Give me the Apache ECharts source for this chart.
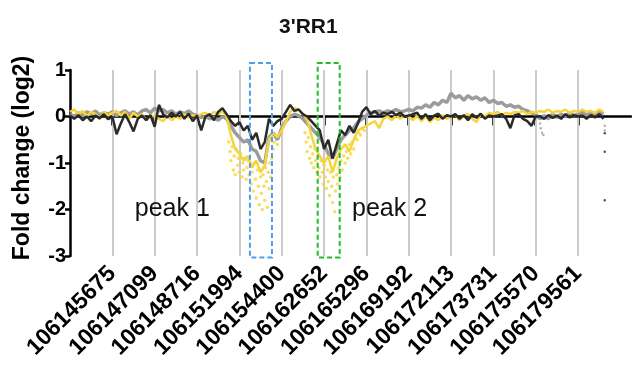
<!DOCTYPE html>
<html>
<head>
<meta charset="utf-8">
<script src="https://cdn.jsdelivr.net/npm/echarts@6/dist/echarts.min.js"></script>
<style>
  html, body { margin: 0; padding: 0; background: #fff; }
  #chart { width: 632px; height: 371px; }
</style>
</head>
<body>
<div id="chart"></div>
<script>
// genomic positions shown under the x axis (one per grid line)
const positions = ['106145675', '106147099', '106148716', '106151994', '106154400', '106162652',
  '106165296', '106169192', '106172113', '106173731', '106175570', '106179561'];
const tickPos = [1, 2, 3, 4, 5, 6, 7, 8, 9, 10, 11, 12];
const step = 0.1; // x spacing of the traces, in grid-line units

// fold change (log2)
const darkVals = [
  0.02, -0.05, 0.03, -0.08, 0.0, -0.1, 0.02, -0.04, 0.05, -0.06,
  0.0, -0.38, -0.15, 0.05, -0.12, -0.32, -0.05, 0.02, -0.08, 0.03,
  -0.22, 0.25, 0.05, -0.02, 0.08, 0.0, 0.1, -0.05, 0.06, -0.1,
  0.02, -0.3, 0.0, 0.05, -0.08, 0.1, 0.18, 0.05, -0.1, -0.2,
  -0.12, -0.3, -0.2, -0.5, -0.35, -0.7, -0.55, -0.05, -0.2, -0.1,
  -0.05, 0.1, 0.25, 0.12, 0.15, 0.05, 0.0, -0.1, -0.2, -0.3,
  -0.7, -0.5, -0.9, -0.6, -0.3, -0.4, -0.2, -0.35, -0.15, 0.1,
  0.2, 0.05, 0.12, 0.02, 0.08, 0.05, 0.1, 0.03, 0.08, 0.0,
  0.02, 0.05, 0.08, -0.05, 0.05, -0.08, 0.02, 0.06, -0.05, 0.03,
  0.0, 0.05, -0.05, 0.03, -0.08, 0.05, -0.03, 0.06, -0.05, 0.02,
  0.0, 0.02, 0.05, -0.05, -0.25, 0.03, 0.05, -0.05, -0.1, -0.2,
  0.0, 0.0, -0.05, 0.03, -0.03, 0.02, -0.05, 0.05, -0.02, 0.03,
  0.0, 0.02, -0.05, 0.03, -0.02, 0.05, -0.05
];
const grayVals = [
  0.05, 0.0, 0.08, 0.02, 0.1, 0.05, 0.12, 0.03, 0.08, 0.05,
  0.1, 0.02, 0.08, 0.12, 0.05, 0.1, 0.03, 0.12, 0.15, 0.08,
  0.18, 0.12, 0.15, 0.08, 0.12, 0.05, 0.1, 0.06, 0.12, 0.05,
  0.02, -0.02, 0.0, -0.05, -0.02, -0.08, 0.0, -0.05, -0.2, -0.35,
  -0.45, -0.55, -0.5, -0.7, -0.75, -0.95, -1.0, -0.45, -0.35, -0.5,
  -0.25, -0.1, 0.0, 0.05, 0.02, -0.05, -0.15, -0.25, -0.35, -0.45,
  -0.6, -0.8, -0.9, -0.7, -0.5, -0.4, -0.3, -0.25, -0.12, -0.05,
  0.02, 0.08, 0.1, 0.12, 0.08, 0.12, 0.1, 0.15, 0.1, 0.12,
  0.15, 0.12, 0.2, 0.18, 0.25, 0.2, 0.3, 0.25, 0.35, 0.3,
  0.5, 0.4, 0.45, 0.35, 0.45, 0.38, 0.42, 0.35, 0.4, 0.3,
  0.35, 0.28, 0.3, 0.22, 0.25, 0.2, 0.22, 0.15, 0.12, 0.08,
  0.05, -0.05, 0.02, -0.05, 0.05, -0.02, 0.05, 0.0, 0.08, 0.02,
  0.05, 0.1, 0.03, 0.08, 0.05, 0.1, 0.05
];
const yellowVals = [
  0.1, 0.15, 0.05, 0.12, 0.0, 0.1, 0.05, -0.05, 0.1, 0.02,
  0.08, 0.12, 0.02, 0.1, -0.05, 0.08, 0.0, 0.05, -0.08, 0.02,
  0.0, -0.05, -0.1, 0.02, -0.08, 0.0, -0.05, 0.05, -0.02, 0.03,
  0.0, 0.05, 0.08, 0.02, 0.1, 0.05, 0.12, 0.0, -0.4, -0.7,
  -0.8, -0.95, -0.85, -1.1, -0.95, -1.2, -1.05, -0.5, -0.35, -0.45,
  -0.3, -0.1, 0.1, 0.18, 0.15, 0.05, -0.05, -0.4, -0.7, -0.85,
  -1.0, -0.85, -1.2, -0.9, -0.7, -0.6, -0.75, -0.5, -0.3, -0.25,
  -0.2, -0.15, -0.1, -0.25, -0.05, 0.0, -0.08, 0.02, -0.05, 0.02,
  0.0, -0.08, 0.02, -0.1, 0.0, -0.12, -0.02, -0.08, 0.03, -0.05,
  0.0, 0.05, -0.08, 0.02, 0.05, -0.05, -0.12, 0.05, 0.0, 0.08,
  0.05, 0.1, 0.02, 0.08, 0.05, 0.1, 0.08, 0.12, 0.05, 0.1,
  0.08, 0.12, 0.1, 0.15, 0.08, 0.12, 0.1, 0.15, 0.08, 0.12,
  0.1, 0.15, 0.1, 0.12, 0.08, 0.15, 0.1
];
// scattered yellow points in the two peaks: [x, fold change]
const yellowPeak1 = [
  [3.75, -0.55], [3.78, -0.75], [3.8, -0.95], [3.83, -0.65], [3.86, -1.15], [3.88, -0.85], [3.9, -1.25],
  [3.93, -0.7], [3.96, -1.05], [3.98, -0.9], [4.0, -1.2], [4.03, -0.8], [4.06, -1.3], [4.08, -1.0],
  [4.1, -1.15], [4.13, -0.9], [4.16, -1.35], [4.18, -1.1], [4.2, -0.95], [4.23, -1.25], [4.26, -1.05],
  [4.28, -1.45], [4.3, -1.2], [4.33, -1.6], [4.35, -1.0], [4.38, -1.35], [4.4, -1.75], [4.43, -1.15],
  [4.45, -1.5], [4.47, -1.9], [4.5, -1.3], [4.52, -1.65], [4.54, -2.0], [4.56, -1.25], [4.58, -1.5],
  [4.6, -1.8], [4.62, -1.1], [4.64, -1.4], [4.66, -1.95], [4.68, -1.2], [4.7, -1.55], [4.72, -1.0],
  [4.74, -1.3], [4.77, -0.9], [4.8, -0.7], [4.83, -0.55], [4.86, -0.45], [4.9, -0.6], [4.95, -0.4],
  [5.0, -0.35]
];
const yellowPeak2 = [
  [5.55, -0.35], [5.58, -0.55], [5.6, -0.75], [5.63, -0.45], [5.66, -0.9], [5.68, -0.65], [5.7, -1.0],
  [5.73, -0.8], [5.76, -1.1], [5.78, -0.7], [5.8, -0.95], [5.83, -1.2], [5.86, -0.85], [5.88, -1.1],
  [5.9, -1.3], [5.93, -0.95], [5.96, -1.2], [5.98, -1.45], [6.0, -1.05], [6.03, -1.3], [6.06, -1.55],
  [6.08, -1.15], [6.1, -1.4], [6.13, -1.7], [6.15, -1.2], [6.18, -1.5], [6.2, -1.85], [6.22, -1.3],
  [6.25, -2.05], [6.27, -1.6], [6.3, -1.25], [6.32, -1.45], [6.35, -1.1], [6.38, -1.3], [6.4, -0.95],
  [6.43, -1.15], [6.46, -0.85], [6.5, -1.0], [6.53, -0.75], [6.56, -0.9], [6.6, -0.6], [6.63, -0.8],
  [6.66, -0.55], [6.7, -0.7], [6.74, -0.45], [6.78, -0.5], [6.82, -0.35], [6.86, -0.4], [6.9, -0.25],
  [6.95, -0.3]
];
const grayDrop = [[11.1, -0.15], [11.12, -0.25], [11.15, -0.35], [11.18, -0.4], [12.63, -0.2], [12.63, -0.3]];
const darkEnd = [[12.63, -0.36], [12.63, -0.76], [12.63, -1.8]];

// dashed boxes and labels (annotation, in axis units)
const boxes = [
  { x0: 4.25, x1: 4.77, color: '#4c9ff0' },
  { x0: 5.85, x1: 6.37, color: '#1fbf1f' }
];
const boxTop = 1.15, boxBottom = -3.03;
const peakLabels = [
  { text: 'peak 1', x: 1.53, y: -2.0 },
  { text: 'peak 2', x: 6.66, y: -2.0 }
];

const toPairs = vals => vals.map((v, i) => [+(i * step).toFixed(2), v]);

const chart = echarts.init(document.getElementById('chart'));
const font = '"Liberation Sans", Arial, sans-serif';

const option = {
  animation: false,
  title: {
    text: "3'RR1",
    left: 274,
    top: 12,
    textStyle: { fontFamily: font, fontSize: 21, fontWeight: 'bold', color: '#111' }
  },
  grid: { left: 70, right: 1, top: 70, bottom: 115 },
  xAxis: [
    {
      type: 'value', min: 0, max: 13.25,
      axisLine: { onZero: true, lineStyle: { color: '#000', width: 2.5 } },
      axisTick: { show: true, customValues: tickPos, length: 9, lineStyle: { color: '#000', width: 2.5 } },
      axisLabel: { show: false },
      splitLine: { show: false }
    },
    {
      type: 'value', min: 0, max: 13.25, position: 'bottom',
      axisLine: { show: false, onZero: false },
      axisTick: { show: false },
      splitLine: { show: false },
      axisLabel: {
        customValues: tickPos,
        rotate: 45,
        margin: 14,
        fontFamily: font, fontSize: 23, fontWeight: 'bold', color: '#000',
        formatter: v => positions[Math.round(v) - 1] || ''
      }
    }
  ],
  yAxis: {
    type: 'value', min: -3, max: 1, interval: 1,
    name: 'Fold change (log2)',
    nameLocation: 'middle',
    nameGap: 36,
    nameTextStyle: { fontFamily: font, fontSize: 23, fontWeight: 'bold', color: '#000', padding: [0, 0, 0, 10] },
    axisLine: { show: true, lineStyle: { color: '#000', width: 2.5 } },
    axisTick: { show: true, length: 5, lineStyle: { color: '#000', width: 2.5 } },
    axisLabel: { margin: 4, fontFamily: font, fontSize: 20, fontWeight: 'bold', color: '#000' },
    splitLine: { show: false }
  },
  series: [
    {
      name: 'grid', type: 'line', data: [], silent: true,
      markLine: {
        silent: true, symbol: 'none', z: 1, label: { show: false },
        lineStyle: { color: '#cccccc', width: 2, type: 'solid' },
        data: tickPos.map(v => ({ xAxis: v }))
      }
    },
    {
      name: 'gray', type: 'line', data: toPairs(grayVals), showSymbol: false,
      lineStyle: { color: '#9c9c9c', width: 3.5 }
    },
    {
      name: 'grayDrop', type: 'scatter', data: grayDrop, symbolSize: 2.5,
      itemStyle: { color: '#9c9c9c' }
    },
    {
      name: 'yellow', type: 'line', data: toPairs(yellowVals), showSymbol: false,
      lineStyle: { color: '#f6d53c', width: 2.5 }
    },
    {
      name: 'yellowPeaks', type: 'scatter', data: yellowPeak1.concat(yellowPeak2), symbolSize: 3.5,
      itemStyle: { color: '#f6d53c' }
    },
    {
      name: 'dark', type: 'line', data: toPairs(darkVals), showSymbol: false,
      lineStyle: { color: '#2a2a2a', width: 2.5 }
    },
    {
      name: 'darkEnd', type: 'scatter', data: darkEnd, symbolSize: 2.5,
      itemStyle: { color: '#2a2a2a' }
    }
  ]
};
chart.setOption(option);

// dashed boxes and peak labels, placed through the axes
const graphics = [];
boxes.forEach(b => {
  const p0 = chart.convertToPixel({ xAxisIndex: 0, yAxisIndex: 0 }, [b.x0, boxTop]);
  const p1 = chart.convertToPixel({ xAxisIndex: 0, yAxisIndex: 0 }, [b.x1, boxBottom]);
  graphics.push({
    type: 'rect', silent: true, z: 10,
    shape: { x: p0[0], y: p0[1], width: p1[0] - p0[0], height: p1[1] - p0[1] },
    style: { fill: 'none', stroke: b.color, lineWidth: 2, lineDash: [5, 3] }
  });
});
peakLabels.forEach(l => {
  const p = chart.convertToPixel({ xAxisIndex: 0, yAxisIndex: 0 }, [l.x, l.y]);
  graphics.push({
    type: 'text', silent: true, z: 10, x: p[0], y: p[1],
    style: { text: l.text, font: '25px ' + font, fill: '#111', verticalAlign: 'middle', align: 'left' }
  });
});
chart.setOption({ graphic: graphics });
</script>
</body>
</html>
